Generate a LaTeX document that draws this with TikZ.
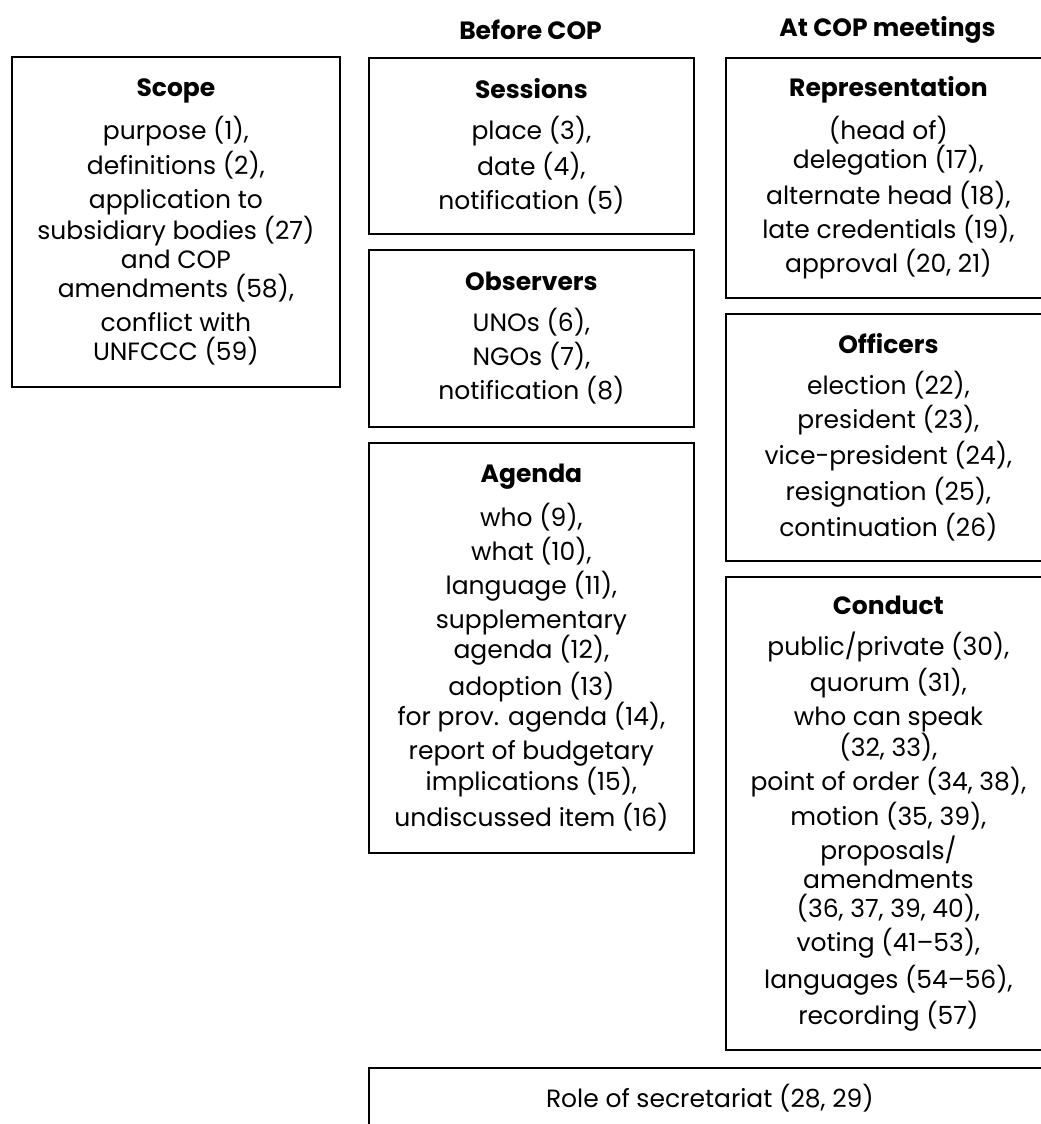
\documentclass[tikz,border=0pt]{standalone}
\usepackage{fontspec}
\setmainfont{Poppins}
\begin{document}
\begin{tikzpicture}[x=1pt,y=-1pt,
  box/.style={draw=black, line width=1.8pt, anchor=north west, align=center,
    inner sep=0pt, font=\fontsize{25}{29}\selectfont},
  colhead/.style={font=\fontsize{25}{29}\selectfont\bfseries, anchor=center}]
\useasboundingbox (0,0) rectangle (1041,1124);
\fill[white] (0,0) rectangle (1041,1124);

\node[colhead] (hbefore) at (530.5,30) {Before COP};
\node[colhead] (hat) at (887.5,30) {At COP meetings};

\node[box, minimum width=328pt, minimum height=330pt] (scope) at (11,56) {%
\textbf{Scope}\\[12pt]
purpose (1),\\[5pt]
definitions (2),\\[5pt]
application to\\ subsidiary bodies (27)\\ and COP\\ amendments (58),\\[5pt]
conflict with\\ UNFCCC (59)};

\node[box, minimum width=325pt, minimum height=176pt] (sessions) at (368,57) {%
\textbf{Sessions}\\[12pt]
place (3),\\[5pt]
date (4),\\[5pt]
notification (5)};

\node[box, minimum width=325pt, minimum height=177pt] (observers) at (368,249) {%
\textbf{Observers}\\[12pt]
UNOs (6),\\[5pt]
NGOs (7),\\[5pt]
notification (8)};

\node[box, minimum width=325pt, minimum height=410pt] (agenda) at (368,442) {%
\textbf{Agenda}\\[12pt]
who (9),\\[5pt]
what (10),\\[5pt]
language (11),\\[5pt]
supplementary\\ agenda (12),\\[5pt]
adoption (13)\\ for prov. agenda (14),\\[5pt]
report of budgetary\\ implications (15),\\[5pt]
undiscussed item (16)};

\node[box, minimum width=325pt, minimum height=240pt] (rep) at (725,57) {%
\textbf{Representation}\\[12pt]
(head of)\\ delegation (17),\\[5pt]
alternate head (18),\\[5pt]
late credentials (19),\\[5pt]
approval (20, 21)};

\node[box, minimum width=325pt, minimum height=247pt] (officers) at (725,313) {%
\textbf{Officers}\\[12pt]
election (22),\\[5pt]
president (23),\\[5pt]
vice-president (24),\\[5pt]
resignation (25),\\[5pt]
continuation (26)};

\node[box, minimum width=325pt, minimum height=473pt] (conduct) at (725,576) {%
\textbf{Conduct}\\[12pt]
public/private (30),\\[5pt]
quorum (31),\\[5pt]
who can speak\\ (32, 33),\\[5pt]
point of order (34, 38),\\[5pt]
motion (35, 39),\\[5pt]
proposals/\\ amendments\\ (36, 37, 39, 40),\\[5pt]
voting (41–53),\\[5pt]
languages (54–56),\\[5pt]
recording (57)};

\node[box, minimum width=682pt, minimum height=60pt] (secr) at (368,1067) {%
Role of secretariat (28, 29)};
\end{tikzpicture}
\end{document}
